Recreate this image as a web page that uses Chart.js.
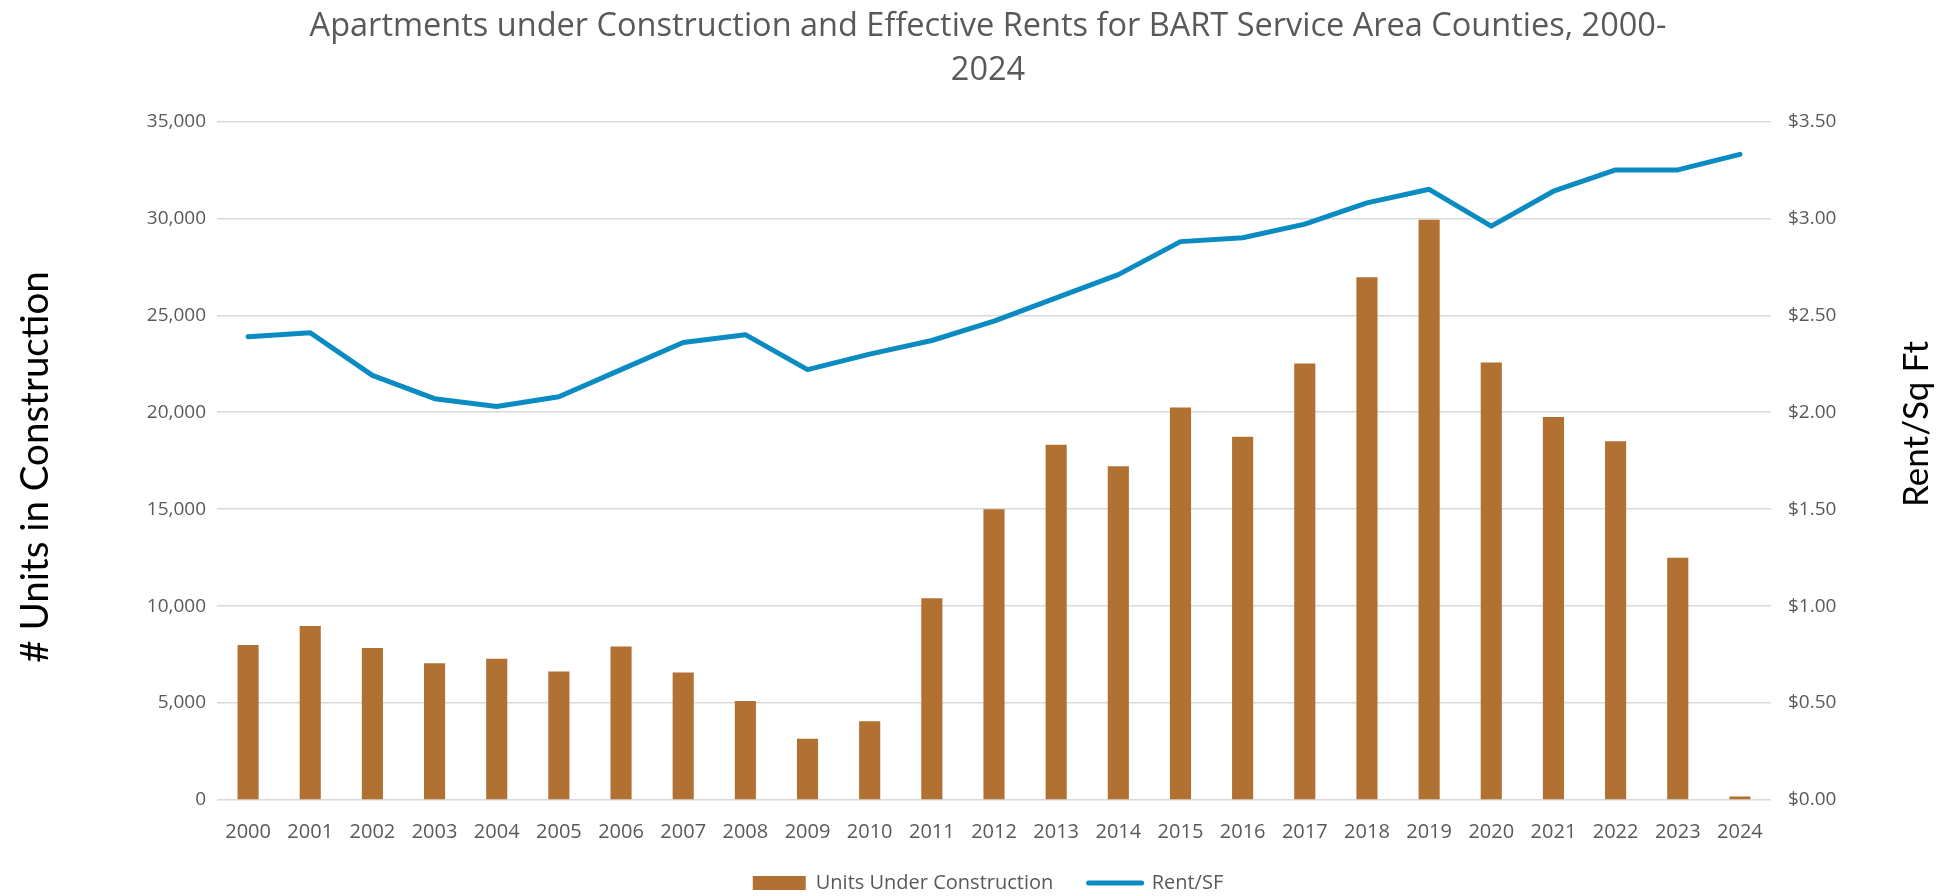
<!DOCTYPE html>
<html>
<head>
<meta charset="utf-8">
<title>Apartments under Construction and Effective Rents</title>
<script src="https://cdn.jsdelivr.net/npm/chart.js@4.4.1/dist/chart.umd.min.js"></script>
<style>
  html, body { margin: 0; padding: 0; background: #fff; }
  #wrap { width: 1947px; height: 896px; }
</style>
</head>
<body>
<div id="wrap"><canvas id="chart" width="1947" height="896"></canvas></div>
<script>
// Yearly figures for the BART service area counties
const years = ['2000', '2001', '2002', '2003', '2004', '2005', '2006', '2007', '2008', '2009',
  '2010', '2011', '2012', '2013', '2014', '2015', '2016', '2017', '2018', '2019',
  '2020', '2021', '2022', '2023', '2024'];
const unitsUnderConstruction = [7990, 8970, 7840, 7050, 7290, 6630, 7920, 6580, 5100, 3160,
  4060, 10400, 15000, 18320, 17210, 20250, 18730, 22510, 26960, 29930,
  22560, 19750, 18500, 12490, 180];
const rentPerSqFt = [2.39, 2.41, 2.19, 2.07, 2.03, 2.08, 2.22, 2.36, 2.40, 2.22,
  2.30, 2.37, 2.47, 2.59, 2.71, 2.88, 2.90, 2.97, 3.08, 3.15,
  2.96, 3.14, 3.25, 3.25, 3.33];
const unitTicks = [0, 5000, 10000, 15000, 20000, 25000, 30000, 35000];
const rentTicks = [0, 0.5, 1, 1.5, 2, 2.5, 3, 3.5];

const grey = '#595959';
const sans = "'Open Sans', sans-serif";

// axis titles are drawn by hand so the right one can read bottom-to-top
function drawVerticalText(ctx, text, x, y, size) {
  ctx.save();
  ctx.fillStyle = '#000';
  ctx.font = size + 'px Lato, sans-serif';
  ctx.textAlign = 'center';
  ctx.textBaseline = 'middle';
  ctx.translate(x, y);
  ctx.rotate(-Math.PI / 2);
  ctx.fillText(text, 0, 0);
  ctx.restore();
}

const axisTitles = {
  id: 'axisTitles',
  afterDraw(chart) {
    drawVerticalText(chart.ctx, '# Units in Construction', 36, 467, 38.5);
    drawVerticalText(chart.ctx, 'Rent/Sq Ft', 1917, 424, 35);
  }
};

const ctx = document.getElementById('chart').getContext('2d');
const myChart = new Chart(ctx, {
  type: 'bar',
  data: {
    labels: years,
    datasets: [
      {
        type: 'bar',
        label: 'Units Under Construction',
        data: unitsUnderConstruction,
        backgroundColor: '#B07133',
        borderWidth: 0,
        barPercentage: 0.34,
        categoryPercentage: 1.0,
        yAxisID: 'y'
      },
      {
        type: 'line',
        label: 'Rent/SF',
        data: rentPerSqFt,
        borderColor: '#0A8CC3',
        backgroundColor: '#0A8CC3',
        borderWidth: 5,
        borderCapStyle: 'round',
        borderJoinStyle: 'round',
        pointRadius: 0,
        tension: 0,
        yAxisID: 'y1'
      }
    ]
  },
  options: {
    responsive: false,
    animation: false,
    devicePixelRatio: 1,
    layout: { padding: { left: 29, right: 0, top: 5, bottom: 0 } },
    plugins: {
      title: {
        display: true,
        text: ['Apartments under Construction and Effective Rents for BART Service Area Counties, 2000-', '2024'],
        color: grey,
        font: { family: sans, size: 32.5, weight: 'normal', lineHeight: 1.345 },
        padding: { top: 0, bottom: 29 }
      },
      legend: {
        position: 'bottom',
        maxHeight: 48,
        labels: {
          color: grey,
          font: { family: sans, size: 20 },
          usePointStyle: true,
          pointStyleWidth: 53,
          boxHeight: 14,
          padding: 25,
          generateLabels(chart) {
            const items = Chart.defaults.plugins.legend.labels.generateLabels(chart);
            items[0].pointStyle = 'rect';
            items[0].lineWidth = 0;
            items[0].text += '  ';
            items[1].pointStyle = 'line';
            items[1].lineWidth = 5;
            items[1].lineCap = 'round';
            return items;
          }
        }
      },
      tooltip: { enabled: false }
    },
    scales: {
      x: {
        afterFit(scale) { scale.height = 48; },
        grid: { display: false },
        border: { display: false },
        ticks: {
          color: grey,
          font: { family: sans, size: 20, lineHeight: 1.0 },
          padding: 14,
          maxRotation: 0,
          autoSkip: false
        }
      },
      y: {
        position: 'left',
        min: 0,
        max: unitTicks[unitTicks.length - 1],
        afterBuildTicks(scale) { scale.ticks = unitTicks.map(v => ({ value: v })); },
        afterFit(scale) { scale.width = 188; },
        grid: { color: '#D9D9D9', lineWidth: 1.5, drawTicks: false },
        border: { display: false },
        ticks: {
          color: grey,
          font: { family: sans, size: 19 },
          padding: 11,
          callback: v => v.toLocaleString('en-US')
        }
      },
      y1: {
        position: 'right',
        min: 0,
        max: rentTicks[rentTicks.length - 1],
        afterBuildTicks(scale) { scale.ticks = rentTicks.map(v => ({ value: v })); },
        afterFit(scale) { scale.width = 176; },
        grid: { display: false, drawTicks: false },
        border: { display: false },
        ticks: {
          color: grey,
          font: { family: sans, size: 19 },
          padding: 17,
          callback: v => '$' + Number(v).toFixed(2)
        }
      }
    }
  },
  plugins: [axisTitles]
});
</script>
</body>
</html>
